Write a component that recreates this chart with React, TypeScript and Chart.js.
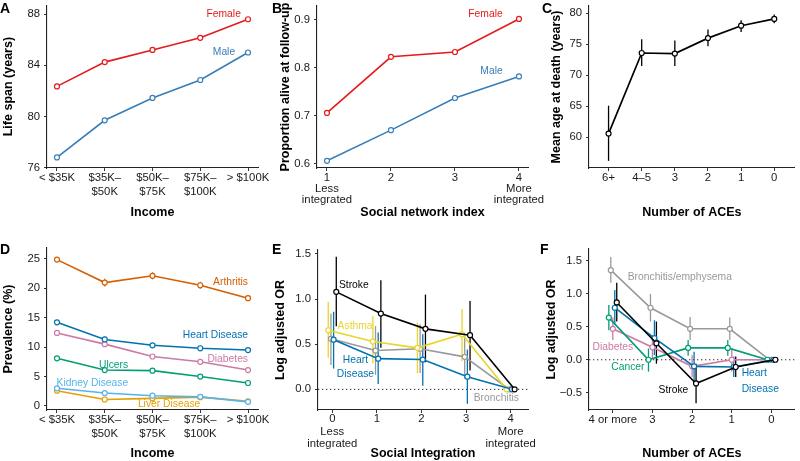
import React, { useEffect, useRef } from "react";
import { Chart, registerables } from "chart.js";
Chart.register(...registerables);

const FONT = "'Liberation Sans', Arial, Helvetica, sans-serif";
const NARROW = "'Liberation Sans Narrow', 'Liberation Sans', Arial, sans-serif";

// ---------------- Panel A ----------------
const incomeLabels = [["< $35K"], ["$35K–", "$50K"], ["$50K–", "$75K"], ["$75K–", "$100K"], ["> $100K"]];
const incomeTicks = [0, 1, 2, 3, 4];
const lifeSpanFemale = [82.35, 84.25, 85.2, 86.15, 87.6];
const lifeSpanMale = [76.8, 79.7, 81.45, 82.85, 85.0];
const lifeSpanTicks = [76, 80, 84, 88];
const lifeSpanTickLabels = ["76", "80", "84", "88"];

// ---------------- Panel B ----------------
const socialIndexTicks = [1, 2, 3, 4];
const socialIndexLabels = [["1", "Less", "integrated"], ["2"], ["3"], ["4", "More", "integrated"]];
const aliveFemale = [0.706, 0.823, 0.833, 0.902];
const aliveMale = [0.606, 0.67, 0.737, 0.782];
const aliveTicks = [0.6, 0.7, 0.8, 0.9];
const aliveTickLabels = ["0.6", "0.7", "0.8", "0.9"];

// ---------------- Panel C ----------------
const aceTicksC = [0, 1, 2, 3, 4, 5];
const aceLabelsC = ["6+", "4–5", "3", "2", "1", "0"];
const ageAtDeath = [60.6, 73.6, 73.5, 76.0, 78.0, 79.1];
const ageLow = [56.2, 71.5, 71.5, 74.7, 77.0, 78.4];
const ageHigh = [65.1, 75.8, 75.6, 77.4, 78.9, 79.8];
const ageTicks = [60, 65, 70, 75, 80];
const ageTickLabels = ["60", "65", "70", "75", "80"];

// ---------------- Panel D ----------------
const arthritis = [24.85, 20.95, 22.1, 20.5, 18.3];
const arthritisErr = [0.35, 0.65, 0.6, 0.6, 0.45];
const heartD = [14.2, 11.3, 10.3, 9.8, 9.5];
const heartDErr = [0.3, 0.45, 0.4, 0.5, 0.35];
const diabetesD = [12.4, 10.5, 8.4, 7.5, 6.1];
const diabetesDErr = [0.3, 0.4, 0.35, 0.4, 0.3];
const ulcers = [8.1, 6.1, 6.0, 5.0, 3.9];
const ulcersErr = [0.25, 0.3, 0.3, 0.3, 0.25];
const kidney = [3.0, 2.2, 1.75, 1.55, 0.7];
const kidneyErr = [0.15, 0.2, 0.2, 0.2, 0.15];
const liver = [2.6, 1.1, 1.3, 1.5, 0.8];
const liverErr = [0.15, 0.15, 0.15, 0.2, 0.15];
const prevTicks = [0, 5, 10, 15, 20, 25];
const prevTickLabels = ["0", "5", "10", "15", "20", "25"];

// ---------------- Panel E ----------------
const integrationTicks = [0, 1, 2, 3, 4];
const integrationLabels = [["0", "Less", "integrated"], ["1"], ["2"], ["3"], ["4", "More", "integrated"]];
const strokeE = [1.08, 0.84, 0.67, 0.6, 0];
const strokeELow = [0.7, 0.46, 0.3, 0.21, null];
const strokeEHigh = [1.47, 1.21, 1.05, 0.98, null];
const asthmaE = [0.655, 0.53, 0.46, 0.61, 0];
const asthmaELow = [0.35, 0.29, 0.18, 0.31, null];
const asthmaEHigh = [0.97, 0.81, 0.74, 0.89, null];
const bronchE = [0.56, 0.43, 0.45, 0.36, 0];
const bronchELow = [0.27, 0.16, 0.18, 0.12, null];
const bronchEHigh = [0.84, 0.7, 0.72, 0.6, null];
const heartE = [0.55, 0.34, 0.33, 0.14, 0];
const heartELow = [0.23, 0.06, 0.04, -0.16, null];
const heartEHigh = [0.86, 0.63, 0.61, 0.44, null];
const orTicksE = [0, 0.5, 1, 1.5];
const orTickLabelsE = ["0.0", "0.5", "1.0", "1.5"];

// ---------------- Panel F ----------------
const aceTicksF = [0, 1, 2, 3, 4];
const aceLabelsF = ["4 or more", "3", "2", "1", "0"];
const bronchF = [1.36, 0.79, 0.47, 0.47, 0];
const bronchFLow = [1.17, 0.58, 0.3, 0.3, null];
const bronchFHigh = [1.56, 1.0, 0.65, 0.64, null];
const cancerF = [0.64, 0.0, 0.18, 0.18, 0];
const cancerFLow = [0.45, -0.18, 0.06, 0.06, null];
const cancerFHigh = [0.83, 0.17, 0.3, 0.3, null];
const diabetesF = [0.47, 0.19, -0.1, 0.0, 0];
const diabetesFLow = [0.3, 0.01, -0.26, -0.18, null];
const diabetesFHigh = [0.64, 0.37, 0.07, 0.17, null];
const heartF = [0.79, 0.33, -0.1, -0.11, 0];
const heartFLow = [0.53, 0.07, -0.33, -0.26, null];
const heartFHigh = [1.06, 0.6, 0.12, 0.05, null];
const strokeF = [0.87, 0.25, -0.36, -0.11, 0];
const strokeFLow = [0.58, -0.06, -0.66, -0.26, null];
const strokeFHigh = [1.17, 0.58, -0.06, 0.05, null];
const orTicksF = [-0.5, 0, 0.5, 1, 1.5];
const orTickLabelsF = ["−0.5", "0.0", "0.5", "1.0", "1.5"];

// colours
const RED = "#E41A1C";
const BLUE = "#377EB8";
const VERMILLION = "#D55E00";
const OKBLUE = "#0072B2";
const PINK = "#CC79A7";
const GREEN = "#009E73";
const SKY = "#56B4E9";
const ORANGE = "#E69F00";
const YELLOW = "#E8D52A";
const GREY = "#999999";
const BLACK = "#000000";

const withErr = (vals: number[], err: number[]) => ({
  low: vals.map((v, i) => v - err[i]),
  high: vals.map((v, i) => v + err[i]),
});

type Series = { color: string; values: number[]; low?: (number | null)[]; high?: (number | null)[]; dodge?: number; width?: number };
type Note = { text: string; x: number; y: number; color: string; align?: CanvasTextAlign };

const PANELS: any[] = [
  {
    letter: "A", letterPos: [0, 13],
    box: { axisX: 47, top: 5, bottom: 168, right: 258, yTitleX: 8.7, xTitleY: 212.3 },
    xMin: -0.209, xMax: 4.209, xTicks: incomeTicks, xTickLabels: incomeLabels, xLH: 1.24, xPad: 0,
    yMin: 75.97, yMax: 88.7, yTicks: lifeSpanTicks, yTickLabels: lifeSpanTickLabels,
    xTitle: "Income", yTitle: "Life span (years)",
    series: [
      { color: RED, values: lifeSpanFemale },
      { color: BLUE, values: lifeSpanMale },
    ],
    notes: [
      { text: "Female", x: 3.85, y: 88.0, color: RED, align: "right" },
      { text: "Male", x: 3.73, y: 85.03, color: BLUE, align: "right" },
    ],
  },
  {
    letter: "B", letterPos: [272, 12.5],
    box: { axisX: 317, top: 6, bottom: 168, right: 528, yTitleX: 285.8, xTitleY: 212.3 },
    xMin: 0.844, xMax: 4.141, xTicks: socialIndexTicks, xTickLabels: socialIndexLabels, xLH: 0.97, xPad: 1.5,
    yMin: 0.591, yMax: 0.929, yTicks: aliveTicks, yTickLabels: aliveTickLabels,
    xTitle: "Social network index", yTitle: "Proportion alive at follow-up",
    series: [
      { color: RED, values: aliveFemale },
      { color: BLUE, values: aliveMale },
    ],
    notes: [
      { text: "Female", x: 3.745, y: 0.912, color: RED, align: "right" },
      { text: "Male", x: 3.745, y: 0.792, color: BLUE, align: "right" },
    ],
  },
  {
    letter: "C", letterPos: [542, 12.5],
    box: { axisX: 589, top: 6, bottom: 168, right: 799, yTitleX: 556.7, xTitleY: 212.3 },
    xMin: -0.59, xMax: 5.62, xTicks: aceTicksC, xTickLabels: aceLabelsC, xLH: 1.24, xPad: 0,
    yMin: 55.05, yMax: 81.18, yTicks: ageTicks, yTickLabels: ageTickLabels,
    xTitle: "Number of ACEs", yTitle: "Mean age at death (years)",
    series: [{ color: BLACK, values: ageAtDeath, low: ageLow, high: ageHigh, width: 1.7 }],
    notes: [],
  },
  {
    letter: "D", letterPos: [0, 254],
    box: { axisX: 47, top: 248, bottom: 410, right: 258, yTitleX: 8.3, xTitleY: 454 },
    xMin: -0.209, xMax: 4.209, xTicks: incomeTicks, xTickLabels: incomeLabels, xLH: 1.24, xPad: 0,
    yMin: -0.68, yMax: 26.82, yTicks: prevTicks, yTickLabels: prevTickLabels,
    xTitle: "Income", yTitle: "Prevalence (%)",
    series: [
      { color: VERMILLION, values: arthritis, ...withErr(arthritis, arthritisErr) },
      { color: OKBLUE, values: heartD, ...withErr(heartD, heartDErr) },
      { color: PINK, values: diabetesD, ...withErr(diabetesD, diabetesDErr) },
      { color: GREEN, values: ulcers, ...withErr(ulcers, ulcersErr) },
      { color: SKY, values: kidney, ...withErr(kidney, kidneyErr) },
      { color: ORANGE, values: liver, ...withErr(liver, liverErr) },
    ],
    notes: [
      { text: "Arthritis", x: 4.0, y: 21.05, color: VERMILLION, align: "right" },
      { text: "Heart Disease", x: 4.0, y: 12.05, color: OKBLUE, align: "right" },
      { text: "Diabetes", x: 4.0, y: 7.98, color: PINK, align: "right" },
      { text: "Ulcers", x: 1.49, y: 6.96, color: GREEN, align: "right" },
      { text: "Kidney Disease", x: 1.49, y: 3.9, color: SKY, align: "right" },
      { text: "Liver Disease", x: 3.0, y: 0.34, color: ORANGE, align: "right" },
    ],
  },
  {
    letter: "E", letterPos: [272, 254],
    box: { axisX: 318, top: 250, bottom: 410, right: 528, yTitleX: 280.3, xTitleY: 454 },
    xMin: -0.32, xMax: 4.39, xTicks: integrationTicks, xTickLabels: integrationLabels, xLH: 1.1, xPad: 0,
    yMin: -0.229, yMax: 1.544, yTicks: orTicksE, yTickLabels: orTickLabelsE,
    xTitle: "Social Integration", yTitle: "Log adjusted OR", refLine: true,
    series: [
      { color: BLACK, values: strokeE, low: strokeELow, high: strokeEHigh, dodge: 0.09 },
      { color: OKBLUE, values: heartE, low: heartELow, high: heartEHigh, dodge: 0.03 },
      { color: YELLOW, values: asthmaE, low: asthmaELow, high: asthmaEHigh, dodge: -0.09 },
      { color: GREY, values: bronchE, low: bronchELow, high: bronchEHigh, dodge: -0.03 },
    ],
    notes: [
      { text: "Stroke", x: 0.15, y: 1.153, color: BLACK, align: "left" },
      { text: "Asthma", x: 0.12, y: 0.7, color: YELLOW, align: "left" },
      { text: "Heart", x: 0.52, y: 0.325, color: OKBLUE, align: "center" },
      { text: "Disease", x: 0.52, y: 0.166, color: OKBLUE, align: "center" },
      { text: "Bronchitis", x: 3.68, y: -0.093, color: GREY, align: "center" },
    ],
  },
  {
    letter: "F", letterPos: [540, 254],
    box: { axisX: 589, top: 249, bottom: 410, right: 799, yTitleX: 551.7, xTitleY: 454 },
    xMin: -0.6, xMax: 4.59, xTicks: aceTicksF, xTickLabels: aceLabelsF, xLH: 1.24, xPad: 0,
    yMin: -0.763, yMax: 1.682, yTicks: orTicksF, yTickLabels: orTickLabelsF,
    xTitle: "Number of ACEs", yTitle: "Log adjusted OR", refLine: true,
    series: [
      { color: BLACK, values: strokeF, low: strokeFLow, high: strokeFHigh, dodge: 0.1 },
      { color: OKBLUE, values: heartF, low: heartFLow, high: heartFHigh, dodge: 0.05 },
      { color: GREEN, values: cancerF, low: cancerFLow, high: cancerFHigh, dodge: -0.1 },
      { color: PINK, values: diabetesF, low: diabetesFLow, high: diabetesFHigh, dodge: 0 },
      { color: GREY, values: bronchF, low: bronchFLow, high: bronchFHigh, dodge: -0.05 },
    ],
    notes: [
      { text: "Bronchitis/emphysema", x: 1.69, y: 1.25, color: GREY, align: "center" },
      { text: "Diabetes", x: 0.0, y: 0.19, color: PINK, align: "center" },
      { text: "Cancer", x: 0.38, y: -0.12, color: GREEN, align: "center" },
      { text: "Stroke", x: 1.53, y: -0.455, color: BLACK, align: "center" },
      { text: "Heart", x: 3.25, y: -0.21, color: OKBLUE, align: "left" },
      { text: "Disease", x: 3.25, y: -0.44, color: OKBLUE, align: "left" },
    ],
  },
];

const TITLE_SIZE = 12.5;
const TITLE_LH = 1.2;
const TICK_SIZE = 11.3;
const NOTE_SIZE = 10.3;

function buildChart(canvas: HTMLCanvasElement, p: any) {
  const lh = TITLE_SIZE * TITLE_LH;
  const L = p.box.yTitleX - lh / 2;
  const Wy = p.box.axisX - L;
  const T = p.box.top;
  const R = 800 - p.box.right;
  const B = 461 - p.box.xTitleY - lh / 2;
  const Hx = 461 - B - p.box.bottom;

  const datasets = p.series.map((s: Series) => ({
    data: s.values.map((v, i) => ({ x: p.xTicks[i] + (s.dodge || 0), y: v })),
    borderColor: s.color,
    backgroundColor: "#ffffff",
    borderWidth: s.width || 1.6,
    pointRadius: 2.5,
    pointBorderWidth: 1.2,
    pointBackgroundColor: "#ffffff",
    pointBorderColor: s.color,
    tension: 0,
    fill: false,
  }));

  const errorBars = {
    id: "errorBars",
    beforeDatasetsDraw(chart: any) {
      const { ctx } = chart;
      const xs = chart.scales.x, ys = chart.scales.y;
      ctx.save();
      p.series.slice().reverse().forEach((s: Series) => {
        if (!s.low || !s.high) return;
        ctx.strokeStyle = s.color;
        ctx.lineWidth = 1.3;
        s.values.forEach((_v, i) => {
          const lo = s.low![i], hi = s.high![i];
          if (lo == null || hi == null) return;
          const px = xs.getPixelForValue(p.xTicks[i] + (s.dodge || 0));
          ctx.beginPath();
          ctx.moveTo(px, ys.getPixelForValue(lo));
          ctx.lineTo(px, ys.getPixelForValue(hi));
          ctx.stroke();
        });
      });
      ctx.restore();
    },
  };

  const refLine = {
    id: "refLine",
    beforeDatasetsDraw(chart: any) {
      if (!p.refLine) return;
      const { ctx, chartArea } = chart;
      const y = chart.scales.y.getPixelForValue(0);
      ctx.save();
      ctx.strokeStyle = "#222";
      ctx.lineWidth = 1;
      ctx.setLineDash([1.3, 2.7]);
      ctx.beginPath();
      ctx.moveTo(chartArea.left, y);
      ctx.lineTo(chartArea.right, y);
      ctx.stroke();
      ctx.restore();
    },
  };

  const notes = {
    id: "notes",
    afterDatasetsDraw(chart: any) {
      const { ctx } = chart;
      const xs = chart.scales.x, ys = chart.scales.y;
      ctx.save();
      ctx.textBaseline = "middle";
      ctx.font = `${NOTE_SIZE}px ${FONT}`;
      p.notes.forEach((n: Note) => {
        ctx.fillStyle = n.color;
        ctx.textAlign = n.align || "center";
        ctx.fillText(n.text, xs.getPixelForValue(n.x), ys.getPixelForValue(n.y));
      });
      ctx.font = `bold 14px ${NARROW}`;
      ctx.fillStyle = "#000";
      ctx.textAlign = "left";
      ctx.textBaseline = "alphabetic";
      ctx.fillText(p.letter, p.letterPos[0], p.letterPos[1]);
      ctx.restore();
    },
  };

  const axisCommon = {
    grid: { display: true, drawOnChartArea: false, drawTicks: true, tickLength: 3, color: "#333", lineWidth: 1 },
    border: { display: true, color: "#222", width: 1.1 },
  };

  return new Chart(canvas, {
    type: "line",
    data: { datasets },
    options: {
      animation: false,
      responsive: false,
      maintainAspectRatio: false,
      parsing: false as any,
      layout: { padding: { left: L, top: T, right: R, bottom: B } },
      plugins: { legend: { display: false }, tooltip: { enabled: false } },
      scales: {
        x: {
          type: "linear",
          min: p.xMin,
          max: p.xMax,
          afterBuildTicks: (s: any) => {
            s.ticks = p.xTicks.map((v: number) => ({ value: v }));
          },
          afterFit: (s: any) => {
            s.height = Hx;
            s.paddingLeft = 0;
            s.paddingRight = 0;
          },
          ticks: {
            callback: (_v: any, i: number) => p.xTickLabels[i],
            autoSkip: false,
            maxRotation: 0,
            minRotation: 0,
            color: "#1a1a1a",
            padding: p.xPad,
            font: { family: FONT, size: TICK_SIZE, lineHeight: p.xLH },
          },
          title: {
            display: true,
            text: p.xTitle,
            color: "#000",
            padding: 0,
            font: { family: FONT, size: TITLE_SIZE, weight: "bold", lineHeight: TITLE_LH },
          },
          ...axisCommon,
        },
        y: {
          type: "linear",
          min: p.yMin,
          max: p.yMax,
          afterBuildTicks: (s: any) => {
            s.ticks = p.yTicks.map((v: number) => ({ value: v }));
          },
          afterFit: (s: any) => {
            s.width = Wy;
            s.paddingTop = 0;
            s.paddingBottom = 0;
          },
          ticks: {
            callback: (_v: any, i: number) => p.yTickLabels[i],
            autoSkip: false,
            color: "#1a1a1a",
            padding: 4,
            font: { family: FONT, size: TICK_SIZE, lineHeight: 1.2 },
          },
          title: {
            display: true,
            text: p.yTitle,
            color: "#000",
            padding: 0,
            font: { family: FONT, size: TITLE_SIZE, weight: "bold", lineHeight: TITLE_LH },
          },
          ...axisCommon,
        },
      },
    } as any,
    plugins: [refLine, errorBars, notes],
  });
}

export default function App() {
  const refs = useRef<(HTMLCanvasElement | null)[]>([]);
  useEffect(() => {
    const charts = PANELS.map((p, i) => buildChart(refs.current[i] as HTMLCanvasElement, p));
    return () => charts.forEach((c) => c.destroy());
  }, []);
  return (
    <div style={{ position: "fixed", left: 0, top: 0, width: 800, height: 461, background: "#fff", overflow: "hidden" }}>
      {PANELS.map((_p, i) => (
        <canvas
          key={i}
          ref={(el) => {
            refs.current[i] = el;
          }}
          width={800}
          height={461}
          style={{ position: "absolute", left: 0, top: 0, width: 800, height: 461 }}
        />
      ))}
    </div>
  );
}
